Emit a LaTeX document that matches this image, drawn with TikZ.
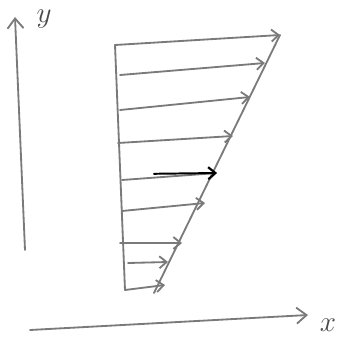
\documentclass[tikz,border=0pt]{standalone}
\usepackage{tikz}
\usetikzlibrary{arrows.meta}
\definecolor{pencil}{HTML}{7A7A7A}
\tikzset{
  axis/.style={draw=pencil, line width=1.3pt, line cap=round, -{Straight Barb[length=2.5mm, width=4mm]}},
  prof/.style={draw=pencil, line width=1.3pt, line cap=round},
  vel/.style={draw=pencil, line width=1.3pt, line cap=round, -{Straight Barb[length=1.8mm, width=3mm]}},
  lbl/.style={text=pencil!60!black, font=\huge}
}
\begin{document}
\begin{tikzpicture}
\useasboundingbox (0,0) rectangle (8.625,8.625);
% axes
\coordinate (y0) at (0.625,2.375);
\coordinate (y1) at (0.375,8.2);
\coordinate (x0) at (0.75,0.375);
\coordinate (x1) at (7.7,0.75);
\draw[axis] (y0) -- (y1);
\draw[axis] (x0) -- (x1);
\node[lbl] (ylab) at (1.1,8.15) {$y$};
\node[lbl] (xlab) at (8.2,0.5) {$x$};
% profile edges
\coordinate (wall top) at (2.875,7.5);
\coordinate (wall bot) at (3.125,1.375);
\coordinate (edge top) at (7.0,7.75);
\coordinate (edge bot) at (3.85,1.3);
\draw[prof] (wall top) -- (wall bot);
\draw[prof] (edge top) -- (edge bot);
% velocity arrows
\coordinate (s1) at (2.875,7.5);   \coordinate (t1) at (7.0,7.75);
\coordinate (s2) at (3.0,6.75);    \coordinate (t2) at (6.625,7.05);
\coordinate (s3) at (3.0,5.875);   \coordinate (t3) at (6.25,6.2);
\coordinate (s4) at (2.95,5.05);   \coordinate (t4) at (5.825,5.225);
\coordinate (s5) at (3.05,4.125);  \coordinate (t5) at (5.425,4.3);
\coordinate (s6) at (3.05,3.35);   \coordinate (t6) at (5.125,3.55);
\coordinate (s7) at (3.0,2.55);    \coordinate (t7) at (4.55,2.55);
\coordinate (s8) at (3.2,2.05);    \coordinate (t8) at (4.2,2.075);
\coordinate (s9) at (3.125,1.375); \coordinate (t9) at (4.125,1.5);
\foreach \i in {1,...,9}
  \draw[vel] (s\i) -- (t\i);
% darker stroke on the middle arrow
\coordinate (m5) at (3.85,4.28);
\draw[line width=1.4pt, line cap=round, -{Straight Barb[length=1.8mm, width=3mm]}] (m5) -- (t5);
\end{tikzpicture}
\end{document}
